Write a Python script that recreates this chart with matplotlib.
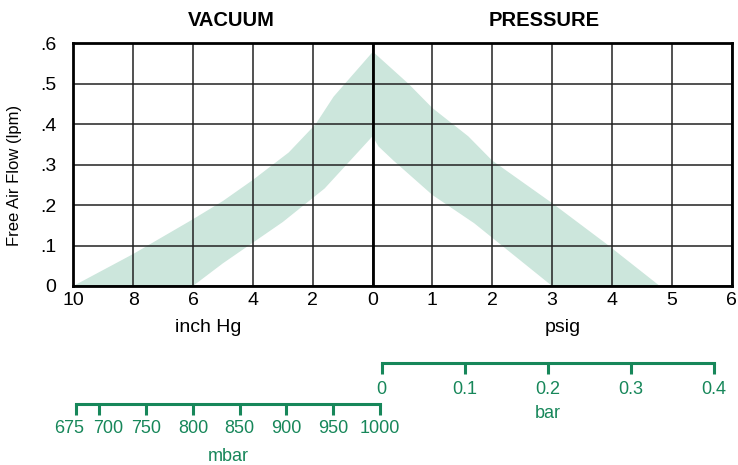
import matplotlib
matplotlib.use("Agg")
import matplotlib.pyplot as plt
from matplotlib.transforms import ScaledTranslation

plt.rcParams['font.family'] = ['Liberation Sans', 'DejaVu Sans']

#___________DATA_______________
# vacuum side (inch Hg) - upper and lower edge of the flow band
vac_up_inhg = [10, 8, 6, 5, 4, 2.8, 1.9, 1.3, 0]
vac_up_flow = [0, 0.079, 0.165, 0.21, 0.262, 0.33, 0.40, 0.468, 0.578]
vac_lo_inhg = [6, 5, 4, 3, 1.6, 0]
vac_lo_flow = [0, 0.056, 0.107, 0.158, 0.241, 0.37]

# pressure side (psig)
prs_up_psig = [0, 0.6, 1.0, 1.6, 2.0, 3.0, 3.9, 4.8]
prs_up_flow = [0.58, 0.50, 0.44, 0.37, 0.31, 0.205, 0.105, 0]
prs_lo_psig = [0, 0.1, 0.35, 1.0, 1.7, 3.0]
prs_lo_flow = [0.37, 0.345, 0.31, 0.225, 0.155, 0]

vac_ticks = [10, 8, 6, 4, 2, 0]
psig_ticks = [1, 2, 3, 4, 5, 6]
flow_ticks = [0, 0.1, 0.2, 0.3, 0.4, 0.5, 0.6]
flow_labels = ["0", ".1", ".2", ".3", ".4", ".5", ".6"]
bar_ticks = [0, 0.1, 0.2, 0.3, 0.4]
mbar_ticks = [675, 700, 750, 800, 850, 900, 950, 1000]

band = "#cce6dc"
green = "#17875a"

# vacuum is drawn on the left at half scale (2 inch Hg per grid cell)
def vx(v):
    return [-a / 2 for a in v]

#___________PLOT_______________
fig = plt.figure(figsize=(7.38, 4.65), dpi=100)
ax = fig.add_axes([0.0993, 0.385, 0.892, 0.522])

# flow band
ax.fill(vx(vac_up_inhg) + vx(vac_lo_inhg)[::-1],
        vac_up_flow + vac_lo_flow[::-1], color=band, lw=0, zorder=1)
ax.fill(prs_up_psig + prs_lo_psig[::-1],
        prs_up_flow + prs_lo_flow[::-1], color=band, lw=0, zorder=1)

xt = vx(vac_ticks) + psig_ticks
ax.set_xlim(-5, 6)
ax.set_ylim(0, 0.6)
ax.set_xticks(xt)
ax.set_xticklabels([str(t) for t in vac_ticks + psig_ticks])
ax.set_yticks(flow_ticks)
ax.set_yticklabels(flow_labels)
ax.tick_params(axis="both", length=0, labelsize=14)
ax.tick_params(axis="x", pad=4)
ax.tick_params(axis="y", pad=12)

for x in xt:
    ax.axvline(x, color="#222222", lw=1.1, zorder=2)
for y in flow_ticks:
    ax.axhline(y, color="#222222", lw=1.1, zorder=2)
ax.axvline(0, color="black", lw=2.0, zorder=3)
for s in ax.spines.values():
    s.set_linewidth(2.0)
    s.set_zorder(4)

ax.text(-2.75, -0.17, "inch Hg", transform=ax.get_xaxis_transform(),
        ha="center", va="center", fontsize=14)
ax.text(3.18, -0.17, "psig", transform=ax.get_xaxis_transform(),
        ha="center", va="center", fontsize=14)

fig.text(231 / 738, 1 - 20 / 465, "VACUUM", ha="center", va="center",
         fontsize=14.5, fontweight="bold")
fig.text(544 / 738, 1 - 20 / 465, "PRESSURE", ha="center", va="center",
         fontsize=14.5, fontweight="bold")
fig.text(15 / 738, 1 - 175 / 465, "Free Air Flow (lpm)", rotation=90,
         ha="center", va="center", fontsize=12)

#___________GREEN SCALES_______________
def green_scale(rect, ticks, lo, hi, label, pad, lpad):
    a = fig.add_axes(rect)
    a.set_xlim(lo, hi)
    a.set_xticks(ticks)
    a.set_xticklabels([str(t) for t in ticks])
    a.set_yticks([])
    a.patch.set_visible(False)
    for k in ["top", "left", "right"]:
        a.spines[k].set_visible(False)
    a.spines["bottom"].set_color(green)
    a.spines["bottom"].set_linewidth(2.2)
    a.spines["bottom"].set_capstyle("projecting")
    a.tick_params(axis="x", direction="out", length=8, width=2.2,
                  color=green, labelcolor=green, labelsize=13, pad=pad)
    a.set_xlabel(label, color=green, fontsize=13, labelpad=lpad)
    return a

green_scale([381.7 / 738, 1 - 362.7 / 465, 332.3 / 738, 0.001],
            bar_ticks, 0, 0.4, "bar", 5, 5)
mb = green_scale([76 / 738, 1 - 404 / 465, 304 / 738, 0.001],
                 mbar_ticks, 675, 1000, "mbar", 3.5, 8)

# first two mbar labels sit close together - spread them a little
labs = mb.get_xticklabels()
labs[0].set_transform(labs[0].get_transform() +
                      ScaledTranslation(-5 / 72, 0, fig.dpi_scale_trans))
labs[1].set_transform(labs[1].get_transform() +
                      ScaledTranslation(6 / 72, 0, fig.dpi_scale_trans))

fig.savefig("out.png", dpi=100)
